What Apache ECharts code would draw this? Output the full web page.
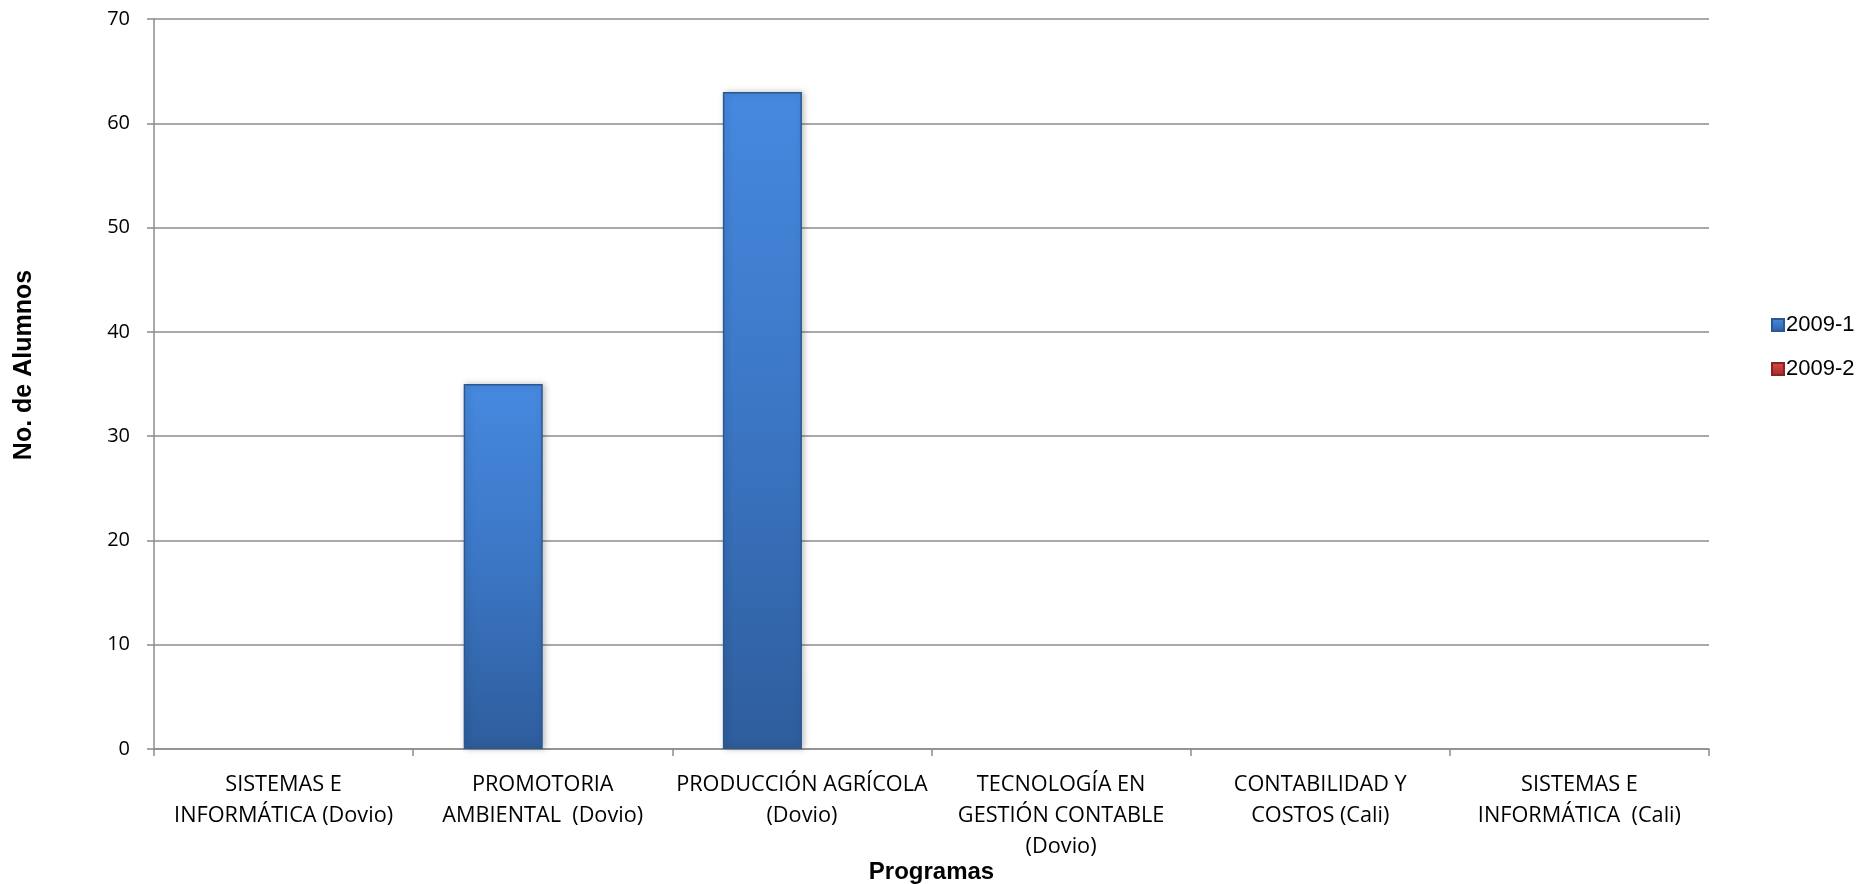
<!DOCTYPE html>
<html>
<head>
<meta charset="utf-8">
<script src="https://cdn.jsdelivr.net/npm/echarts@6/dist/echarts.min.js"></script>
<style>
html,body{margin:0;padding:0;background:#fff;}
#chart{width:1875px;height:884px;}
</style>
</head>
<body>
<div id="chart"></div>
<script>
const categories = [
  "SISTEMAS E\nINFORMÁTICA (Dovio)",
  "PROMOTORIA\nAMBIENTAL  (Dovio)",
  "PRODUCCIÓN AGRÍCOLA\n(Dovio)",
  "TECNOLOGÍA EN\nGESTIÓN CONTABLE\n(Dovio)",
  "CONTABILIDAD Y\nCOSTOS (Cali)",
  "SISTEMAS E\nINFORMÁTICA  (Cali)"
];
const seriesNames = ["2009-1", "2009-2"];
const values2009_1 = [0, 35, 63, 0, 0, 0];
const values2009_2 = [0, 0, 0, 0, 0, 0];
const yTicks = { min: 0, max: 70, interval: 10 };

// zero-height bars are not drawn in the original
const show = arr => arr.map(v => (v === 0 ? '-' : v));

const chart = echarts.init(document.getElementById('chart'));
const blueGrad = new echarts.graphic.LinearGradient(0, 0, 0, 1, [
  { offset: 0, color: '#4689df' },
  { offset: 0.5, color: '#3b76c4' },
  { offset: 1, color: '#2e5d9c' }
]);
const redGrad = new echarts.graphic.LinearGradient(0, 0, 0, 1, [
  { offset: 0, color: '#d94b4b' },
  { offset: 1, color: '#a22a2a' }
]);
chart.setOption({
  animation: false,
  backgroundColor: '#ffffff',
  grid: { left: 154, right: 166, top: 19, bottom: 135, containLabel: false, outerBoundsMode: 'none' },
  legend: {
    orient: 'vertical',
    left: 1766,
    top: 309,
    itemWidth: 12,
    itemHeight: 12,
    itemGap: 22,
    icon: 'rect',
    textStyle: { fontFamily: 'Liberation Sans, Arial', fontSize: 22, color: '#000', padding: [0, 0, 0, -3] },
    data: seriesNames
  },
  xAxis: {
    type: 'category',
    data: categories,
    name: 'Programas',
    nameLocation: 'middle',
    nameGap: 111,
    nameMoveOverlap: false,
    nameTextStyle: { fontFamily: 'Liberation Sans, Arial', fontWeight: 'bold', fontSize: 24, color: '#000' },
    axisLine: { lineStyle: { color: '#8c8c8c', width: 1.5 } },
    axisTick: { show: true, length: 7, lineStyle: { color: '#8c8c8c', width: 1.5 } },
    axisLabel: {
      interval: 0,
      margin: 20,
      fontFamily: 'Open Sans, Noto Sans, sans-serif',
      fontSize: 21.7,
      lineHeight: 31,
      color: '#000',
      align: 'center'
    }
  },
  yAxis: {
    type: 'value',
    min: yTicks.min,
    max: yTicks.max,
    interval: yTicks.interval,
    name: 'No. de Alumnos',
    nameLocation: 'middle',
    nameRotate: 90,
    nameGap: 117,
    nameMoveOverlap: false,
    nameTextStyle: { fontFamily: 'Liberation Sans, Arial', fontWeight: 'bold', fontSize: 25, color: '#000', padding: [0, 0, 0, 38] },
    axisLine: { show: true, lineStyle: { color: '#8c8c8c', width: 1.5 } },
    axisTick: { show: true, length: 7, lineStyle: { color: '#8c8c8c', width: 1.5 } },
    splitLine: { show: true, lineStyle: { color: '#8c8c8c', width: 1.5 } },
    axisLabel: {
      margin: 24,
      fontFamily: 'Open Sans, Noto Sans, sans-serif',
      fontSize: 20,
      color: '#000'
    }
  },
  series: [
    {
      name: seriesNames[0],
      type: 'bar',
      data: show(values2009_1),
      barGap: '0%',
      barCategoryGap: '39%',
      itemStyle: { color: blueGrad, borderColor: '#2b5890', borderWidth: 1.5,
        shadowColor: 'rgba(0,0,0,0.25)', shadowBlur: 6, shadowOffsetX: 2 }
    },
    {
      name: seriesNames[1],
      type: 'bar',
      data: show(values2009_2),
      itemStyle: { color: redGrad, borderColor: '#8a2222', borderWidth: 1 }
    }
  ]
});
</script>
</body>
</html>
